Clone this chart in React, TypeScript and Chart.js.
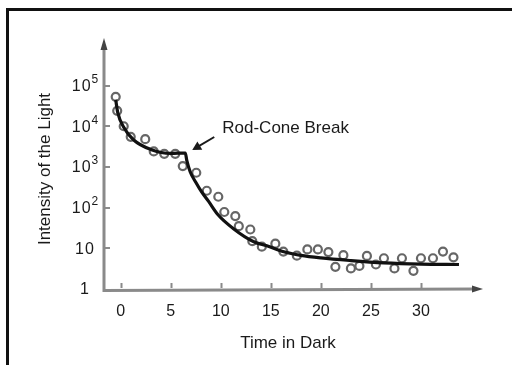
import React, { useEffect, useRef } from "react";
import { Chart, registerables } from "chart.js";

Chart.register(...registerables);

// Measured data points (hollow circles)
const pointTimes = [-0.5, -0.35, 0.3, 1.0, 2.45, 3.3, 4.35, 5.45, 6.2, 7.55, 8.6, 9.75, 10.35, 11.45, 11.8, 12.95, 13.15, 14.1, 15.45, 16.25, 17.6, 18.65, 19.7, 20.75, 21.45, 22.25, 23.0, 23.85, 24.6, 25.5, 26.3, 27.35, 28.1, 29.25, 30.0, 31.2, 32.2, 33.25];
const pointIntensity = [53000, 24000, 10000, 5500, 4800, 2400, 2100, 2100, 1050, 720, 260, 185, 78, 62, 35, 29, 15, 11, 13, 8.3, 6.6, 9.4, 9.4, 8.1, 3.5, 6.8, 3.2, 3.7, 6.5, 4.0, 5.7, 3.2, 5.7, 2.8, 5.7, 5.7, 8.3, 6.0];

// Fitted adaptation curve (thick black line)
const curveTimes = [-0.5, -0.3, 0.3, 1.3, 3.0, 5.0, 6.45, 6.6, 6.95, 7.5, 8.1, 8.8, 9.7, 11.3, 13.3, 14.6, 16.3, 18.0, 20.0, 23.0, 26.3, 30.0, 33.8];
const curveIntensity = [45000, 22000, 9500, 4600, 2700, 2150, 2200, 1450, 750, 420, 240, 140, 68, 30, 14.5, 11.5, 8.2, 6.7, 5.8, 5.0, 4.4, 4.1, 4.0];

// Axis ticks
const xTicks = [0, 5, 10, 15, 20, 25, 30];
const yTickPowers = [0, 1, 2, 3, 4, 5];

const xTitle = "Time in Dark";
const yTitle = "Intensity of the Light";
const annotationText = "Rod-Cone Break";
const breakTime = 6.45;
const breakIntensity = 2200;

const FONT = "'Liberation Sans', Arial, Helvetica, sans-serif";
const AXIS_COLOR = "#8a8a8a";

const decorPlugin = {
  id: "decor",
  beforeDatasetsDraw(chart: any) {
    const ctx = chart.ctx as CanvasRenderingContext2D;
    const xs = chart.scales.x;
    const ys = chart.scales.y;
    const area = chart.chartArea;
    const left = area.left;
    const bottom = ys.getPixelForValue(1);
    ctx.save();
    // frame
    ctx.strokeStyle = "#111";
    ctx.lineWidth = 3;
    ctx.beginPath();
    ctx.moveTo(7.5, 365);
    ctx.lineTo(7.5, 9.5);
    ctx.lineTo(512, 9.5);
    ctx.stroke();

    // axes
    ctx.strokeStyle = AXIS_COLOR;
    ctx.fillStyle = AXIS_COLOR;
    ctx.lineWidth = 3;
    ctx.beginPath();
    ctx.moveTo(left, area.top + 8);
    ctx.lineTo(left, bottom + 1.5);
    ctx.lineTo(area.right - 8, bottom);
    ctx.stroke();
    // arrowheads
    ctx.fillStyle = "#444";
    ctx.beginPath();
    ctx.moveTo(left, area.top - 2);
    ctx.lineTo(left - 3.5, area.top + 10);
    ctx.lineTo(left + 3.5, area.top + 10);
    ctx.closePath();
    ctx.fill();
    ctx.beginPath();
    ctx.moveTo(area.right, bottom);
    ctx.lineTo(area.right - 11, bottom - 3.5);
    ctx.lineTo(area.right - 11, bottom + 3.5);
    ctx.closePath();
    ctx.fill();

    // tick stubs (inward)
    ctx.strokeStyle = AXIS_COLOR;
    ctx.lineWidth = 2;
    ctx.beginPath();
    for (const t of xTicks) {
      const px = Math.round(xs.getPixelForValue(t)) + 0.5;
      ctx.moveTo(px, bottom - 1);
      ctx.lineTo(px, bottom - 6);
    }
    for (const p of yTickPowers) {
      if (p === 0) continue;
      const py = Math.round(ys.getPixelForValue(Math.pow(10, p)));
      ctx.moveTo(left + 1, py);
      ctx.lineTo(left + 6, py);
    }
    ctx.stroke();
    ctx.restore();
  },
  afterDraw(chart: any) {
    const ctx = chart.ctx as CanvasRenderingContext2D;
    const xs = chart.scales.x;
    const ys = chart.scales.y;
    ctx.save();
    ctx.fillStyle = "#1a1a1a";
    ctx.textBaseline = "middle";
    // y tick labels with superscripts
    for (const p of yTickPowers) {
      const py = ys.getPixelForValue(Math.pow(10, p));
      const base = p === 0 ? "1" : "10";
      const sup = p >= 2 ? String(p) : "";
      (ctx as any).letterSpacing = "1px";
      ctx.font = `16px ${FONT}`;
      const wb = ctx.measureText(base).width;
      (ctx as any).letterSpacing = "0px";
      ctx.font = `12px ${FONT}`;
      const ws = sup ? ctx.measureText(sup).width : 0;
      const cx = 85;
      const startX = cx - (wb + ws) / 2;
      (ctx as any).letterSpacing = "1px";
      ctx.font = `16px ${FONT}`;
      ctx.textAlign = "left";
      ctx.fillText(base, startX, py + 1);
      (ctx as any).letterSpacing = "0px";
      if (sup) {
        ctx.font = `12px ${FONT}`;
        ctx.fillText(sup, startX + wb, py - 6);
      }
    }
    // axis titles
    ctx.font = `17px ${FONT}`;
    ctx.textAlign = "center";
    ctx.fillText(xTitle, 288, 343);
    ctx.save();
    ctx.translate(45, 169);
    ctx.rotate(-Math.PI / 2);
    ctx.fillText(yTitle, 0, 0);
    ctx.restore();

    // annotation
    const bx = xs.getPixelForValue(breakTime);
    const by = ys.getPixelForValue(breakIntensity);
    ctx.textAlign = "left";
    ctx.font = `17px ${FONT}`;
    ctx.fillText(annotationText, bx + 37, by - 25);
    const tipX = bx + 7;
    const tipY = by - 3;
    const tailX = bx + 29;
    const tailY = by - 16;
    ctx.strokeStyle = "#1a1a1a";
    ctx.fillStyle = "#1a1a1a";
    ctx.lineWidth = 2;
    ctx.beginPath();
    ctx.moveTo(tailX, tailY);
    ctx.lineTo(tipX + 4, tipY - 2.3);
    ctx.stroke();
    const ang = Math.atan2(tipY - tailY, tipX - tailX);
    ctx.beginPath();
    ctx.moveTo(tipX, tipY);
    ctx.lineTo(tipX - 10 * Math.cos(ang - 0.5), tipY - 10 * Math.sin(ang - 0.5));
    ctx.lineTo(tipX - 10 * Math.cos(ang + 0.5), tipY - 10 * Math.sin(ang + 0.5));
    ctx.closePath();
    ctx.fill();
    ctx.restore();
  },
};

export default function App() {
  const ref = useRef<HTMLCanvasElement | null>(null);
  useEffect(() => {
    document.body.style.margin = "0";
    const canvas = ref.current;
    if (!canvas) return;
    const chart = new Chart(canvas, {
      type: "scatter",
      data: {
        datasets: [
          {
            type: "line",
            label: "Curve",
            data: curveTimes.map((t, i) => ({ x: t, y: curveIntensity[i] })),
            borderColor: "#111",
            borderWidth: 3.2,
            pointRadius: 0,
            fill: false,
            cubicInterpolationMode: "monotone",
            order: 0,
          } as any,
          {
            label: "Measurements",
            data: pointTimes.map((t, i) => ({ x: t, y: pointIntensity[i] })),
            borderColor: "#666",
            backgroundColor: "rgba(0,0,0,0)",
            borderWidth: 2.2,
            pointRadius: 4,
            pointStyle: "circle",
            order: 1,
          },
        ],
      },
      options: {
        animation: false,
        responsive: false,
        clip: false as any,
        layout: { padding: { left: 0, top: 40, right: 29, bottom: 0 } },
        plugins: { legend: { display: false }, tooltip: { enabled: false } },
        scales: {
          x: {
            type: "linear",
            min: -1.67,
            max: 36.2,
            grid: { display: false, drawTicks: false },
            border: { display: false },
            afterBuildTicks: (s: any) => {
              s.ticks = xTicks.map((v) => ({ value: v }));
            },
            afterFit: (s: any) => {
              s.height = 85;
            },
            ticks: {
              autoSkip: false,
              maxRotation: 0,
              padding: 13,
              color: "#1a1a1a",
              font: { family: FONT, size: 16 },
              callback: (v: any) => String(v),
            },
          },
          y: {
            type: "logarithmic",
            min: 1,
            max: Math.pow(10, 6.12),
            grid: { display: false, drawTicks: false },
            border: { display: false },
            afterBuildTicks: (s: any) => {
              s.ticks = yTickPowers.map((p) => ({ value: Math.pow(10, p) }));
            },
            afterFit: (s: any) => {
              s.width = 104;
            },
            ticks: { display: false },
          },
        },
      },
      plugins: [decorPlugin],
    });
    return () => chart.destroy();
  }, []);
  return (
    <div style={{ width: 512, height: 374, background: "#fff" }}>
      <canvas ref={ref} width={512} height={374} style={{ display: "block" }} />
    </div>
  );
}
